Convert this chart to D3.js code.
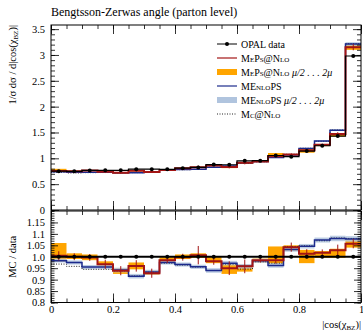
<!DOCTYPE html>
<html>
<head>
<meta charset="utf-8">
<script src="https://cdn.jsdelivr.net/npm/d3@7"></script>
<style>
  body { margin: 0; background: #fff; }
  svg { font-family: 'Liberation Serif', 'DejaVu Serif', serif; }
  .sc { font-variant: small-caps; }
</style>
</head>
<body>
<div id="chart"></div>
<script>
// bins of |cos(chi_BZ)|
const binEdges = [0, 0.05, 0.1, 0.15, 0.2, 0.25, 0.3, 0.35, 0.4, 0.45, 0.5,
  0.55, 0.6, 0.65, 0.7, 0.75, 0.8, 0.85, 0.9, 0.95, 1];

// OPAL data
const opalData = [0.752, 0.748, 0.765, 0.767, 0.767, 0.79, 0.79, 0.787, 0.81, 0.823,
  0.88, 0.876, 0.952, 0.954, 1.055, 1.032, 1.14, 1.243, 1.43, 2.98];

// MC / data ratios
const mepsRatio = [1.004, 1.0, 0.997, 0.967, 0.939, 0.96, 0.928, 0.985, 0.998, 1.007,
  0.98, 0.95, 0.958, 0.985, 0.985, 1.042, 1.013, 1.017, 1.028, 1.057];
const mepsErr = [0.02, 0.015, 0.015, 0.02, 0.02, 0.025, 0.02, 0.012, 0.015, 0.04,
  0.015, 0.03, 0.03, 0.01, 0.015, 0.02, 0.02, 0.015, 0.025, 0.02];
const mepsLo = [0.978, 0.99, 0.985, 0.955, 0.925, 0.945, 0.922, 0.978, 0.99, 0.995,
  0.972, 0.925, 0.935, 0.975, 0.97, 1.025, 0.972, 0.995, 0.995, 1.04];
const mepsHi = [1.06, 1.015, 1.01, 0.98, 0.95, 0.975, 0.94, 0.998, 1.01, 1.015,
  1.0, 0.97, 0.965, 0.992, 1.045, 1.05, 1.03, 1.025, 1.035, 1.08];

const menloRatio = [0.983, 0.975, 0.955, 0.955, 0.942, 0.915, 0.933, 0.975, 0.966, 0.956,
  0.94, 0.972, 0.958, 0.982, 0.962, 1.032, 1.046, 1.073, 1.08, 1.078];
const menloLo = [0.975, 0.966, 0.946, 0.946, 0.932, 0.905, 0.923, 0.966, 0.957, 0.947,
  0.93, 0.962, 0.948, 0.973, 0.952, 1.022, 1.036, 1.062, 1.068, 1.066];
const menloHi = [0.992, 0.984, 0.964, 0.964, 0.952, 0.925, 0.943, 0.984, 0.975, 0.965,
  0.95, 0.982, 0.968, 0.991, 0.972, 1.042, 1.056, 1.084, 1.092, 1.09];

const mcnloRatio = [0.968, 0.958, 0.945, 0.945, 0.938, 0.916, 0.932, 0.972, 0.964, 0.955,
  0.94, 0.968, 0.946, 0.978, 0.972, 1.045, 1.048, 1.07, 1.082, 1.08];

// ticks
const xTickVals = [0, 0.2, 0.4, 0.6, 0.8, 1];
const xTickLabels = ['0', '0.2', '0.4', '0.6', '0.8', '1'];
const yTickVals = [0, 0.5, 1, 1.5, 2, 2.5, 3, 3.5];
const yTickLabels = ['0', '0.5', '1', '1.5', '2', '2.5', '3', '3.5'];
const rTickVals = [0.8, 0.85, 0.9, 0.95, 1.0, 1.05, 1.1, 1.15];
const rTickLabels = ['0.8', '0.85', '0.9', '0.95', '1.0', '1.05', '1.1', '1.15'];

const legendItems = [
  { label: 'OPAL data', kind: 'data' },
  { label: 'MePs@Nlo', kind: 'line', color: '#a31515' },
  { label: 'MePs@Nlo', extra: ' μ/2 . . . 2μ', kind: 'band', color: '#ffa500' },
  { label: 'MEnloPS', kind: 'line', color: '#1c2a8c' },
  { label: 'MEnloPS', extra: ' μ/2 . . . 2μ', kind: 'band', color: '#b0c4de' },
  { label: 'Mc@Nlo', kind: 'dots' }
];

// layout
const width = 363, height = 332;
const L = 51, R = 361;
const mainTop = 25, mainBot = 210, ratTop = 211, ratBot = 302.5;
const RED = '#a31515', BLUE = '#1c2a8c', ORANGE = '#ffa500', LBLUE = '#b0c4de';

const svg = d3.select('#chart').append('svg')
  .attr('width', width).attr('height', height);

const x = d3.scaleLinear().domain([0, 1]).range([L, R]);
const y = d3.scaleLinear().domain([0, 3.58]).range([mainBot, mainTop]);
const yr = d3.scaleLinear().domain([0.8, 1.2]).range([ratBot, ratTop]);

const bins = opalData.map((v, i) => ({ lo: binEdges[i], hi: binEdges[i + 1], i }));
const mid = b => (b.lo + b.hi) / 2;

function stepPath (vals, ys) {
  let p = '';
  vals.forEach((v, i) => {
    const x0 = x(binEdges[i]), x1 = x(binEdges[i + 1]), yy = ys(v);
    p += (i === 0 ? `M${x0},${yy}` : `L${x0},${yy}`) + `L${x1},${yy}`;
  });
  return p;
}

function drawPanel (g, ys, mode, clipId) {
  // mode 'main': values scaled by data; 'ratio': raw ratio
  const val = (r, i) => mode === 'main' ? r * opalData[i] : r;
  const dataVal = i => mode === 'main' ? opalData[i] : 1;
  g.attr('clip-path', `url(#${clipId})`);

  // bands
  g.selectAll('rect.orange').data(bins).join('rect').attr('class', 'orange')
    .attr('x', d => x(d.lo)).attr('width', d => x(d.hi) - x(d.lo))
    .attr('y', d => ys(val(mepsHi[d.i], d.i)))
    .attr('height', d => ys(val(mepsLo[d.i], d.i)) - ys(val(mepsHi[d.i], d.i)))
    .attr('fill', ORANGE);
  g.selectAll('rect.lblue').data(bins).join('rect').attr('class', 'lblue')
    .attr('x', d => x(d.lo)).attr('width', d => x(d.hi) - x(d.lo))
    .attr('y', d => ys(val(menloHi[d.i], d.i)))
    .attr('height', d => ys(val(menloLo[d.i], d.i)) - ys(val(menloHi[d.i], d.i)))
    .attr('fill', LBLUE).attr('opacity', 0.85);

  // MC@NLO dotted
  g.append('path').attr('d', stepPath(mcnloRatio.map(val), ys))
    .attr('fill', 'none').attr('stroke', '#222').attr('stroke-width', 1)
    .attr('stroke-dasharray', '1,1.5');
  // MEnloPS
  g.append('path').attr('d', stepPath(menloRatio.map(val), ys))
    .attr('fill', 'none').attr('stroke', BLUE).attr('stroke-width', 1.5);
  // MEPs@NLO
  g.append('path').attr('d', stepPath(mepsRatio.map(val), ys))
    .attr('fill', 'none').attr('stroke', RED).attr('stroke-width', 2);
  g.selectAll('line.rerr').data(bins).join('line').attr('class', 'rerr')
    .attr('x1', d => x(mid(d))).attr('x2', d => x(mid(d)))
    .attr('y1', d => ys(val(mepsRatio[d.i] - mepsErr[d.i], d.i)))
    .attr('y2', d => ys(val(mepsRatio[d.i] + mepsErr[d.i], d.i)))
    .attr('stroke', RED).attr('stroke-width', 1);

  // data
  g.append('path').attr('d', stepPath(opalData.map((v, i) => dataVal(i)), ys))
    .attr('fill', 'none').attr('stroke', '#000').attr('stroke-width', mode === 'main' ? 1.2 : 2);
  g.selectAll('circle.dot').data(bins).join('circle').attr('class', 'dot')
    .attr('cx', d => x(mid(d))).attr('cy', d => ys(dataVal(d.i)))
    .attr('r', 2).attr('fill', '#000');
}

const defs = svg.append('defs');
defs.append('clipPath').attr('id', 'clipMain').append('rect')
  .attr('x', L).attr('y', mainTop).attr('width', R - L).attr('height', mainBot - mainTop);
defs.append('clipPath').attr('id', 'clipRat').append('rect')
  .attr('x', L).attr('y', ratTop).attr('width', R - L).attr('height', ratBot - ratTop);

drawPanel(svg.append('g'), y, 'main', 'clipMain');
drawPanel(svg.append('g'), yr, 'ratio', 'clipRat');

// ticks (inward)
const xMinor = d3.range(0, 1.0001, 0.05);
function ticks (axisFn, scale, vals, size, transform) {
  svg.append('g').attr('transform', transform)
    .call(axisFn(scale).tickValues(vals).tickSize(size).tickFormat(''))
    .call(g => g.select('.domain').remove())
    .selectAll('line').attr('stroke-width', 0.8);
}
// main panel
ticks(d3.axisTop, x, xTickVals, 9, `translate(0,${mainBot})`);
ticks(d3.axisTop, x, xMinor, 4, `translate(0,${mainBot})`);
ticks(d3.axisBottom, x, xTickVals, 9, `translate(0,${mainTop})`);
ticks(d3.axisBottom, x, xMinor, 4, `translate(0,${mainTop})`);
const yMinor = d3.range(0, 3.58, 0.1);
ticks(d3.axisRight, y, yTickVals, 8, `translate(${L},0)`);
ticks(d3.axisRight, y, yMinor, 4, `translate(${L},0)`);
ticks(d3.axisLeft, y, yTickVals, 8, `translate(${R},0)`);
ticks(d3.axisLeft, y, yMinor, 4, `translate(${R},0)`);
// ratio panel
ticks(d3.axisTop, x, xTickVals, 9, `translate(0,${ratBot})`);
ticks(d3.axisTop, x, xMinor, 4, `translate(0,${ratBot})`);
ticks(d3.axisBottom, x, xTickVals, 9, `translate(0,${ratTop})`);
ticks(d3.axisBottom, x, xMinor, 4, `translate(0,${ratTop})`);
const rMinor = d3.range(0.8, 1.2001, 0.01);
ticks(d3.axisRight, yr, rTickVals, 7, `translate(${L},0)`);
ticks(d3.axisRight, yr, rMinor, 3.5, `translate(${L},0)`);
ticks(d3.axisLeft, yr, rTickVals, 7, `translate(${R},0)`);
ticks(d3.axisLeft, yr, rMinor, 3.5, `translate(${R},0)`);

// frames
svg.append('rect').attr('x', L).attr('y', mainTop).attr('width', R - L).attr('height', mainBot - mainTop)
  .attr('fill', 'none').attr('stroke', '#000').attr('stroke-width', 1);
svg.append('rect').attr('x', L).attr('y', ratTop).attr('width', R - L).attr('height', ratBot - ratTop)
  .attr('fill', 'none').attr('stroke', '#000').attr('stroke-width', 1);

// tick labels
function labels (axisFn, scale, vals, texts, transform, pad) {
  svg.append('g').attr('transform', transform)
    .call(axisFn(scale).tickValues(vals).tickSize(0).tickPadding(pad)
      .tickFormat((d, i) => texts[i]))
    .call(g => g.select('.domain').remove())
    .selectAll('text').attr('font-family', "'Liberation Serif', serif").attr('font-size', 10.5);
}
labels(d3.axisLeft, y, yTickVals, yTickLabels, `translate(${L},0)`, 6);
labels(d3.axisLeft, yr, rTickVals, rTickLabels, `translate(${L},0)`, 6);
labels(d3.axisBottom, x, xTickVals, xTickLabels, `translate(0,${ratBot})`, 3);

// title
svg.append('text').attr('x', L).attr('y', 16).attr('font-size', 12)
  .text('Bengtsson-Zerwas angle (parton level)');

// axis titles
const yl = svg.append('text').attr('transform', `translate(16,${mainTop}) rotate(-90)`)
  .attr('text-anchor', 'end').attr('font-size', 10.5);
yl.append('tspan').text('1/σ dσ / d|cos(χ');
yl.append('tspan').attr('font-size', 7).attr('dy', 2).text('BZ');
yl.append('tspan').attr('dy', -2).text(')|');

svg.append('text').attr('transform', `translate(16,${yr(1)}) rotate(-90)`)
  .attr('text-anchor', 'middle').attr('font-size', 10.5).text('MC / data');

const xl = svg.append('text').attr('x', R).attr('y', 328)
  .attr('text-anchor', 'end').attr('font-size', 10.5);
xl.append('tspan').text('|cos(χ');
xl.append('tspan').attr('font-size', 7).attr('dy', 2).text('BZ');
xl.append('tspan').attr('dy', -2).text(')|');

// legend
const legend = svg.append('g').attr('transform', 'translate(217,44)');
legendItems.forEach((it, i) => {
  const g = legend.append('g').attr('transform', `translate(0,${i * 14})`);
  if (it.kind === 'data') {
    g.append('line').attr('x1', 0).attr('x2', 20).attr('stroke', '#000').attr('stroke-width', 1);
    g.append('circle').attr('cx', 10).attr('r', 2).attr('fill', '#000');
  } else if (it.kind === 'line') {
    g.append('line').attr('x1', 0).attr('x2', 20).attr('stroke', it.color).attr('stroke-width', 1.2);
  } else if (it.kind === 'band') {
    g.append('rect').attr('x', 0).attr('y', -3).attr('width', 20).attr('height', 6).attr('fill', it.color);
  } else {
    g.append('line').attr('x1', 0).attr('x2', 20).attr('stroke', '#222').attr('stroke-width', 1)
      .attr('stroke-dasharray', '1,1.5');
  }
  const t = g.append('text').attr('x', 24).attr('y', 3.5).attr('font-size', 10);
  t.append('tspan').attr('class', it.kind === 'data' ? '' : 'sc').text(it.label);
  if (it.extra) t.append('tspan').attr('font-style', 'italic').text(it.extra);
});
</script>
</body>
</html>
